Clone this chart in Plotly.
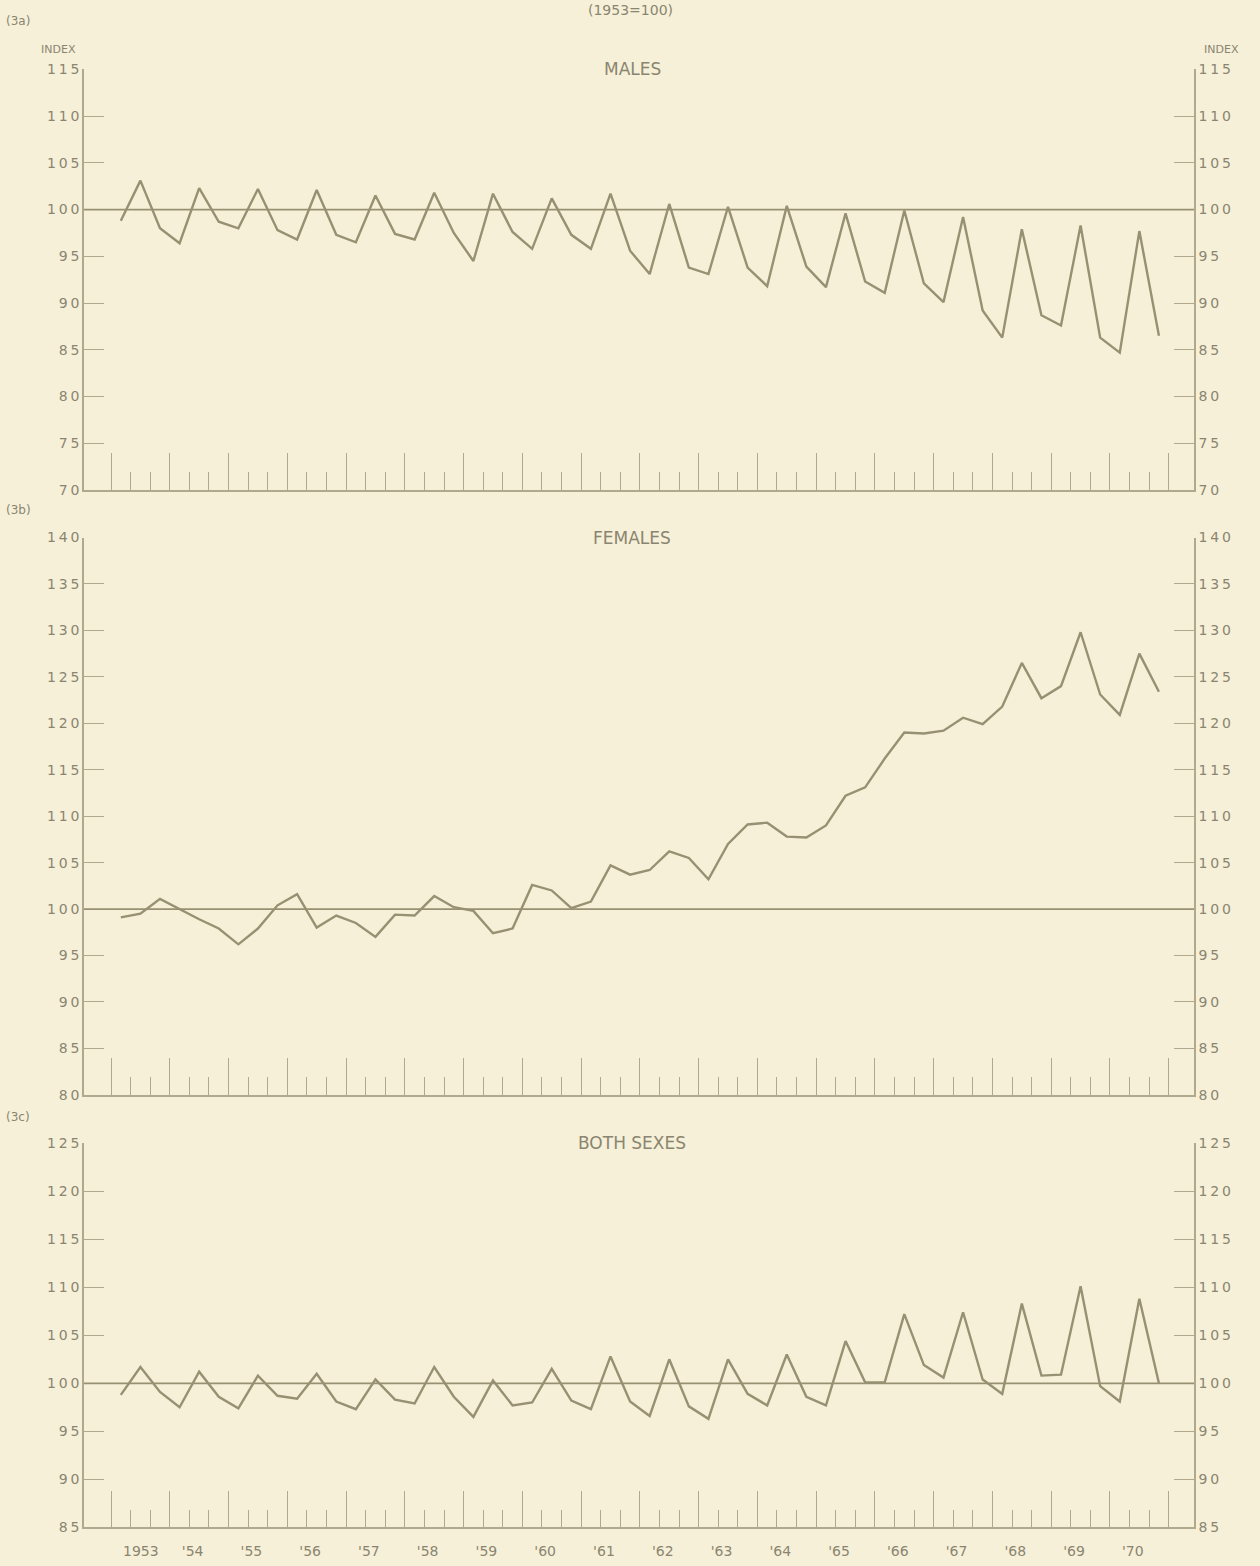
import plotly.graph_objects as go

# ---------------- data (tri-annual index, 1953 = 100) ----------------
years = list(range(1953, 1971))
year_labels = ["1953", "'54", "'55", "'56", "'57", "'58", "'59", "'60", "'61",
               "'62", "'63", "'64", "'65", "'66", "'67", "'68", "'69", "'70"]

males = [98.8, 103.1, 98.0, 96.4, 102.3, 98.7, 98.0, 102.2, 97.8,
         96.8, 102.1, 97.3, 96.5, 101.5, 97.4, 96.8, 101.8, 97.5,
         94.5, 101.7, 97.6, 95.8, 101.2, 97.3, 95.8, 101.7, 95.6,
         93.1, 100.6, 93.8, 93.1, 100.3, 93.8, 91.8, 100.4, 93.9,
         91.7, 99.6, 92.3, 91.1, 99.9, 92.1, 90.1, 99.2, 89.2,
         86.3, 97.9, 88.7, 87.6, 98.3, 86.3, 84.7, 97.7, 86.5]

females = [99.1, 99.5, 101.1, 100.0, 98.9, 97.9, 96.2, 97.9, 100.4,
           101.6, 98.0, 99.3, 98.5, 97.0, 99.4, 99.3, 101.4, 100.2,
           99.8, 97.4, 97.9, 102.6, 102.0, 100.1, 100.8, 104.7, 103.7,
           104.2, 106.2, 105.5, 103.2, 107.0, 109.1, 109.3, 107.8, 107.7,
           109.0, 112.2, 113.1, 116.2, 119.0, 118.9, 119.2, 120.6, 119.9,
           121.8, 126.5, 122.7, 124.0, 129.8, 123.1, 120.9, 127.5, 123.4]

both_sexes = [98.8, 101.7, 99.1, 97.5, 101.2, 98.6, 97.4, 100.8, 98.7,
              98.4, 101.0, 98.1, 97.3, 100.4, 98.3, 97.9, 101.7, 98.6,
              96.5, 100.3, 97.7, 98.0, 101.5, 98.2, 97.3, 102.8, 98.1,
              96.6, 102.5, 97.6, 96.3, 102.5, 98.9, 97.7, 103.0, 98.6,
              97.7, 104.4, 100.1, 100.1, 107.2, 101.9, 100.6, 107.4, 100.4,
              98.9, 108.3, 100.8, 100.9, 110.1, 99.7, 98.1, 108.8, 100.0]

panel_titles = ["MALES", "FEMALES", "BOTH SEXES"]
panel_tags = ["(3a)", "(3b)", "(3c)"]
y_ranges = [(70, 115), (80, 140), (85, 125)]
base_value = 100

# ---------------- styling ----------------
W, H = 1260, 1566
BG = "#f6f0d8"
LINE = "#979072"
AXIS = "#b0a98d"
TEXT = "#8a8570"
FONT = "DejaVu Sans"

x_left_px, x_right_px = 84, 1194
panel_px = [(62, 487), (535, 1098), (1147, 1535)]
tag_px = [13, 507, 1120]

periods = [y + (k + 0.5) / 3 for y in years for k in range(3)]
major_ticks = years + [years[-1] + 1]
minor_ticks = [y + k / 3 for y in years for k in (1, 2)]
x_range = [1952.54, 1971.43]


def spaced(s):
    return "\u2009".join(s)


def ydom(top, bot):
    return [1 - bot / H, 1 - top / H]


fig = go.Figure()
series = [males, females, both_sexes]

layout = dict(
    width=W, height=H, autosize=False,
    margin=dict(l=0, r=0, t=0, b=0),
    paper_bgcolor=BG, plot_bgcolor=BG,
    showlegend=False,
    font=dict(family=FONT, color=TEXT, size=14),
)

xdom = [x_left_px / W, x_right_px / W]
annotations = []
shapes = []

for i in range(3):
    n = i + 1
    xa = "x" if n == 1 else f"x{n}"
    ya = "y" if n == 1 else f"y{n}"
    yr_name = f"y{n + 3}"
    lo, hi = y_ranges[i]
    tv = list(range(lo, hi + 1, 5))
    tt = [spaced(str(v)) for v in tv]
    dom = ydom(*panel_px[i])

    fig.add_trace(go.Scatter(x=periods, y=series[i], mode="lines",
                             line=dict(color=LINE, width=2.4),
                             xaxis=xa, yaxis=ya, hoverinfo="skip"))
    # invisible helper to activate right-hand axis
    fig.add_trace(go.Scatter(x=periods, y=series[i], mode="lines",
                             line=dict(width=0), opacity=0,
                             xaxis=xa, yaxis=yr_name, hoverinfo="skip"))

    layout[f"xaxis{'' if n == 1 else n}"] = dict(
        domain=xdom, range=x_range, anchor=ya,
        showline=True, linecolor=AXIS, linewidth=1.5,
        showgrid=False, zeroline=False,
        ticks="inside", tickmode="array", tickvals=major_ticks,
        ticklen=37, tickwidth=1.3, tickcolor=AXIS,
        showticklabels=False,
        minor=dict(tickmode="array", tickvals=minor_ticks, ticks="inside",
                   ticklen=18, tickwidth=1.3, tickcolor=AXIS, showgrid=False),
    )
    common_y = dict(
        domain=dom, range=[lo, hi],
        showline=True, linecolor=AXIS, linewidth=1.5,
        showgrid=False, zeroline=False,
        ticks="inside", tickmode="array", tickvals=tv, ticktext=tt,
        ticklen=20, tickwidth=1.3, tickcolor=AXIS,
        tickfont=dict(family=FONT, color=TEXT, size=14),
    )
    layout[f"yaxis{'' if n == 1 else n}"] = dict(common_y, anchor=xa, side="left")
    layout[f"yaxis{n + 3}"] = dict(common_y, anchor=xa, side="right",
                                  overlaying=ya)

    # base (100) reference line
    shapes.append(dict(type="line", xref=f"{xa} domain", yref=ya,
                       x0=0, x1=1, y0=base_value, y1=base_value,
                       line=dict(color=LINE, width=1.8)))

    top_px = panel_px[i][0]
    annotations.append(dict(text=panel_titles[i], xref="paper", yref="paper",
                            x=632 / W, y=1 - top_px / H, showarrow=False,
                            font=dict(family=FONT, size=17, color=TEXT),
                            xanchor="center", yanchor="middle"))
    annotations.append(dict(text=panel_tags[i], xref="paper", yref="paper",
                            x=4 / W, y=1 - tag_px[i] / H, showarrow=False,
                            font=dict(family=FONT, size=12, color=TEXT),
                            xanchor="left", yanchor="middle"))

# INDEX labels (top panel only)
annotations.append(dict(text="INDEX", xref="paper", yref="paper",
                        x=78 / W, y=1 - 42 / H, showarrow=False,
                        font=dict(family=FONT, size=11, color=TEXT),
                        xanchor="right", yanchor="middle"))
annotations.append(dict(text="INDEX", xref="paper", yref="paper",
                        x=1202 / W, y=1 - 42 / H, showarrow=False,
                        font=dict(family=FONT, size=11, color=TEXT),
                        xanchor="left", yanchor="middle"))
# heading at the very top (cut by the page edge in the reference)
annotations.append(dict(text="(1953=100)", xref="paper", yref="paper",
                        x=630 / W, y=1 - 2 / H, showarrow=False,
                        font=dict(family=FONT, size=14, color=TEXT),
                        xanchor="center", yanchor="middle"))

# year labels on an overlaid axis of the bottom panel
fig.add_trace(go.Scatter(x=periods, y=both_sexes, mode="lines",
                         line=dict(width=0), opacity=0,
                         xaxis="x4", yaxis="y3", hoverinfo="skip"))
layout["xaxis4"] = dict(
    domain=xdom, range=x_range, anchor="y3", overlaying="x3", side="bottom",
    showline=False, showgrid=False, zeroline=False, ticks="",
    tickmode="array", tickvals=years, ticktext=year_labels,
    ticklabelposition="outside right", ticklabelshift=12,
    ticklabelstandoff=14,
    tickfont=dict(family=FONT, color=TEXT, size=14),
)

layout["annotations"] = annotations
layout["shapes"] = shapes
fig.update_layout(**layout)

fig.write_html("out.html")
